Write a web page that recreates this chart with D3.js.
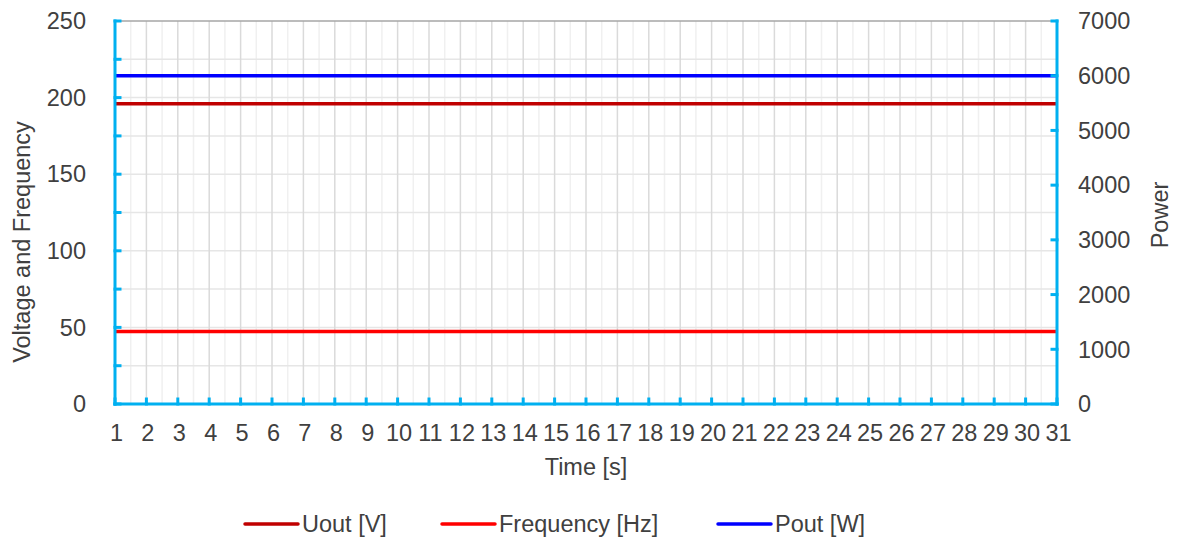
<!DOCTYPE html>
<html><head><meta charset="utf-8">
<script src="https://cdn.jsdelivr.net/npm/d3@7"></script>
<style>body{margin:0;background:#fff;} text{font-family:"Liberation Sans",Arial,sans-serif;fill:#404040;}</style>
</head><body>
<svg id="c" width="1182" height="540"></svg>
<script>
const times = d3.range(1, 32);
const uout = times.map(() => 196);
const freq = times.map(() => 47.3);
const pout = times.map(() => 6000);
const leftTicks = [0, 50, 100, 150, 200, 250];
const rightTicks = [0, 1000, 2000, 3000, 4000, 5000, 6000, 7000];
const seriesNames = ["Uout [V]", "Frequency [Hz]", "Pout [W]"];
const seriesColors = ["#C00000", "#FF0000", "#0000FF"];

const svg = d3.select("#c");
const L = 115, R = 1057, T = 21, B = 404;
const x = d3.scaleLinear().domain([1, 31]).range([L, R]);
const yL = d3.scaleLinear().domain([0, 250]).range([B, T]);
const yR = d3.scaleLinear().domain([0, 7000]).range([B, T]);
const axisColor = "#00B0F0";
const fs = 23.5;

// grid
const g = svg.append("g");
g.selectAll(".vmin").data(d3.range(1.5, 31, 1)).join("line")
  .attr("x1", d => x(d)).attr("x2", d => x(d)).attr("y1", T).attr("y2", B)
  .attr("stroke", "#f0f0f0").attr("stroke-width", 1.5);
g.selectAll(".hg").data(d3.range(25, 250, 25)).join("line")
  .attr("x1", L).attr("x2", R).attr("y1", d => yL(d)).attr("y2", d => yL(d))
  .attr("stroke", "#e6e6e6").attr("stroke-width", 1.5);
g.selectAll(".vmaj").data(d3.range(2, 31)).join("line")
  .attr("x1", d => x(d)).attr("x2", d => x(d)).attr("y1", T).attr("y2", B)
  .attr("stroke", "#dadada").attr("stroke-width", 1.5);
g.append("line").attr("x1", L).attr("x2", R).attr("y1", T).attr("y2", T)
  .attr("stroke", "#a6a6a6").attr("stroke-width", 1.5);

// series
const line = (ys, arr) => d3.line().x((d, i) => x(times[i])).y(d => ys(d))(arr);
[[yL, uout], [yL, freq], [yR, pout]].forEach(([ys, arr], i) => {
  svg.append("path").attr("d", line(ys, arr)).attr("fill", "none")
    .attr("stroke", seriesColors[i]).attr("stroke-width", 3.5);
});

// axes (custom drawing using scales)
const ax = svg.append("g").attr("stroke", axisColor).attr("stroke-width", 3).attr("stroke-linecap", "square");
ax.append("line").attr("x1", L).attr("x2", L).attr("y1", T).attr("y2", B);
ax.append("line").attr("x1", R).attr("x2", R).attr("y1", T).attr("y2", B);
ax.append("line").attr("x1", L).attr("x2", R).attr("y1", B).attr("y2", B);
ax.selectAll(".lt").data(d3.range(0, 251, 25)).join("line")
  .attr("x1", L).attr("x2", L + 5).attr("y1", d => yL(d)).attr("y2", d => yL(d));
ax.selectAll(".rt").data(rightTicks).join("line")
  .attr("x1", R).attr("x2", R - 5).attr("y1", d => yR(d)).attr("y2", d => yR(d));
ax.selectAll(".bt").data(times).join("line")
  .attr("x1", d => x(d)).attr("x2", d => x(d)).attr("y1", B).attr("y2", B - 5);

// tick labels
svg.selectAll(".ll").data(leftTicks).join("text")
  .attr("x", 86).attr("y", d => yL(d)).attr("dy", "0.35em")
  .attr("text-anchor", "end").attr("font-size", fs).text(d => d);
svg.selectAll(".rl").data(rightTicks).join("text")
  .attr("x", 1078).attr("y", d => yR(d)).attr("dy", "0.35em")
  .attr("text-anchor", "start").attr("font-size", fs).text(d => d);
svg.selectAll(".bl").data(times).join("text")
  .attr("x", d => x(d) + 1.5).attr("y", 441)
  .attr("text-anchor", "middle").attr("font-size", fs).text(d => d);

// axis titles
svg.append("text").attr("transform", "translate(30,242) rotate(-90)")
  .attr("text-anchor", "middle").attr("font-size", fs).text("Voltage and Frequency");
svg.append("text").attr("transform", "translate(1168,215) rotate(-90)")
  .attr("text-anchor", "middle").attr("font-size", fs).text("Power");
svg.append("text").attr("x", 586).attr("y", 475)
  .attr("text-anchor", "middle").attr("font-size", fs).text("Time [s]");

// legend
const legX = [245, 442, 718];
seriesNames.forEach((n, i) => {
  const lg = svg.append("g").attr("transform", `translate(${legX[i]},524)`);
  lg.append("line").attr("x1", 0).attr("x2", 53).attr("y1", 0).attr("y2", 0)
    .attr("stroke", seriesColors[i]).attr("stroke-width", 3.5).attr("stroke-linecap", "round");
  lg.append("text").attr("x", 57).attr("y", 0).attr("dy", "0.35em").attr("font-size", fs).text(n);
});
</script>
</body></html>
